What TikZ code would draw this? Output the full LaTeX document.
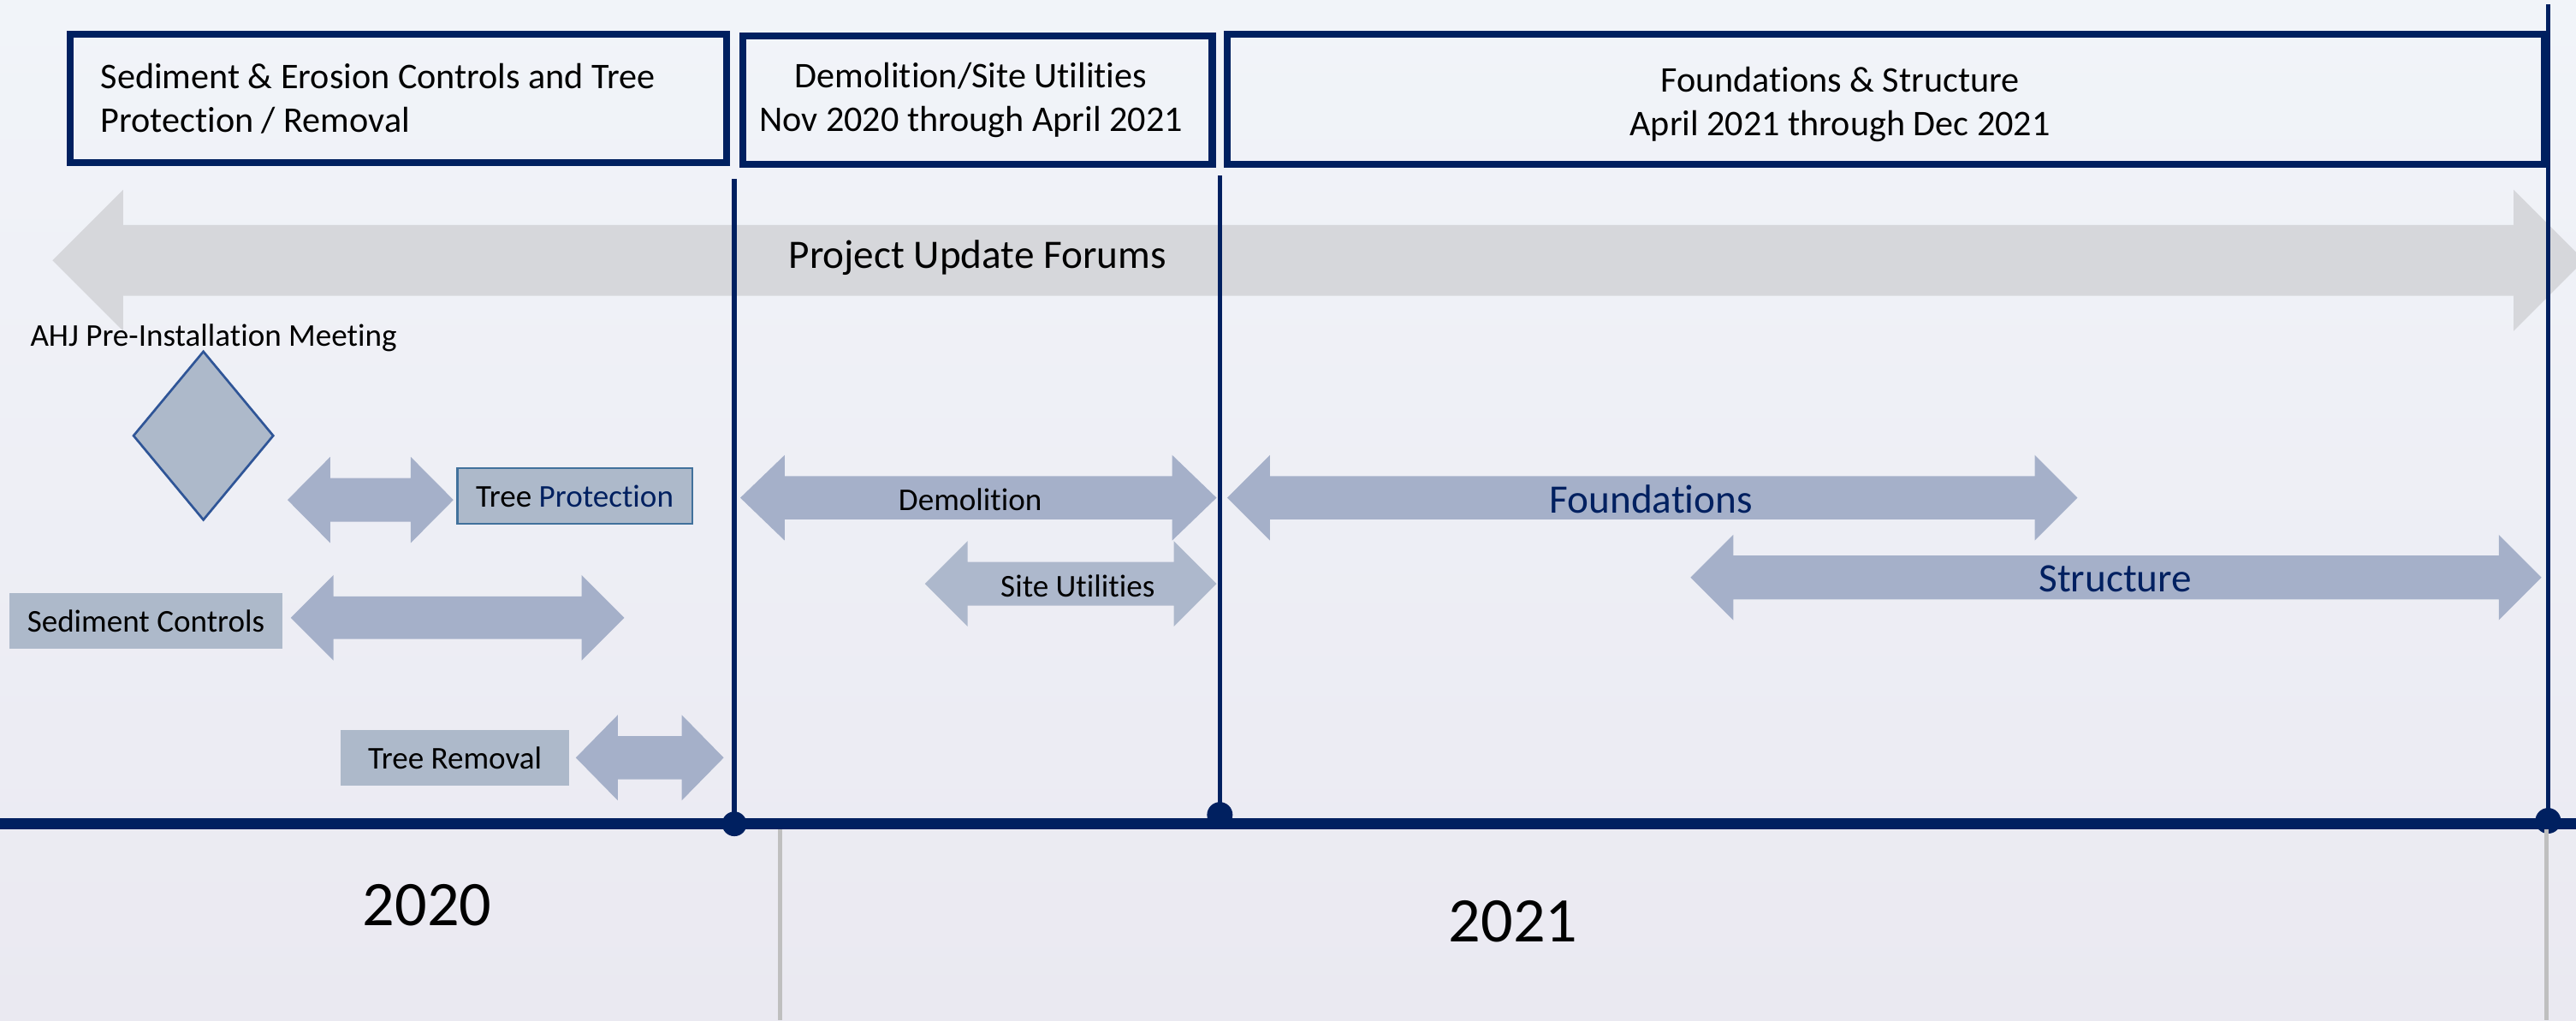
\documentclass[tikz,border=0pt]{standalone}
\usepackage{fontspec}
\setmainfont[Ligatures=NoCommon]{Carlito}
\definecolor{navy}{HTML}{002060}
\definecolor{bgtop}{RGB}{241,244,249}
\definecolor{bgbot}{RGB}{234,233,241}
\definecolor{arrowfill}{HTML}{A5B0C9}
\definecolor{arrowlite}{HTML}{ADB8CC}
\definecolor{boxfill}{HTML}{ADB9CA}
\definecolor{forumgray}{RGB}{214,215,219}
\definecolor{diaedge}{HTML}{2F5597}
\definecolor{tpedge}{HTML}{41719C}
\definecolor{yeargray}{RGB}{191,191,191}
\newcommand\dblarr[7]{% #1 colour, #2 left tip x, #3 right tip x, #4 centre y, #5 body half, #6 head half, #7 head length
  \fill[#1] (#2,#4) -- ({#2+#7},{#4-#6}) -- ({#2+#7},{#4-#5}) -- ({#3-#7},{#4-#5}) -- ({#3-#7},{#4-#6}) -- (#3,#4)
    -- ({#3-#7},{#4+#6}) -- ({#3-#7},{#4+#5}) -- ({#2+#7},{#4+#5}) -- ({#2+#7},{#4+#6}) -- cycle;}
\begin{document}
\begin{tikzpicture}[x=0.02cm,y=-0.02cm,
  hdr/.style={draw=navy, line width=0.084cm, inner sep=0pt},
  hdrtext/.style={font=\fontsize{12.5}{15.2}\selectfont, inner sep=0pt},
  tag/.style={fill=boxfill, inner sep=0pt, font=\fontsize{11}{13}\selectfont},
  lbl/.style={inner sep=0pt, font=\fontsize{11}{13}\selectfont},
  biglbl/.style={inner sep=0pt, font=\fontsize{14}{16}\selectfont, text=navy},
  vline/.style={navy, line width=0.056cm},
  yline/.style={yeargray, line width=0.05cm},
  year/.style={inner sep=0pt, font=\fontsize{22}{26}\selectfont}]
\useasboundingbox (0,0) rectangle (1568,621);
\shade[top color=bgtop,bottom color=bgbot] (0,0) rectangle (1568,621);

% Project Update Forums arrow
\dblarr{forumgray}{32}{1573}{158.5}{21.5}{43}{43}
\node[inner sep=0pt, font=\fontsize{14}{16}\selectfont] (forums) at (595,157) {Project Update Forums};

% header boxes
\node[hdr, minimum width=7.996cm, minimum height=1.56cm] (h1) at (242.5,60) {};
\node[hdrtext, anchor=west, align=left] (h1t) at (61,60) {Sediment \& Erosion Controls and Tree\\Protection / Removal};
\node[hdr, minimum width=5.716cm, minimum height=1.556cm] (h2) at (595,61) {};
\node[hdrtext, align=center] (h2t) at (591,61) {Demolition/Site Utilities\\Nov 2020 through April 2021};
\node[hdr, minimum width=16.038cm, minimum height=1.58cm] (h3) at (1148,60.5) {};
\node[hdrtext, align=center] (h3t) at (1120,63.5) {Foundations \& Structure\\April 2021 through Dec 2021};

% milestone lines
\coordinate (v1t) at (447,109);  \coordinate (v1b) at (447,501.5);
\coordinate (v2t) at (742.5,107); \coordinate (v2b) at (742.5,496);
\coordinate (v3t) at (1551,2.5); \coordinate (v3b) at (1551,499.6);
\draw[vline] (v1t) -- (v1b);
\draw[vline] (v2t) -- (v2b);
\draw[vline] (v3t) -- (v3b);

% AHJ meeting
\node[lbl] (ahj) at (130,205.5) {AHJ Pre-Installation Meeting};
\draw[diaedge, fill=boxfill, line width=0.028cm] (123.8,214) -- (166.3,265.2) -- (123.8,316.4) -- (81.3,265.2) -- cycle;

% activity arrows
\dblarr{arrowfill}{175}{276}{304.3}{13.3}{26.2}{26}
\dblarr{arrowfill}{177}{380}{376}{13}{26}{26}
\dblarr{arrowfill}{350.5}{440.5}{461.2}{13.2}{26}{25.5}
\dblarr{arrowfill}{450.6}{740.5}{303}{13.2}{26}{27}
\dblarr{arrowlite}{563}{740.5}{355.3}{13.3}{26}{26}
\dblarr{arrowfill}{747}{1264.5}{303}{13.2}{26}{26}
\dblarr{arrowfill}{1029}{1547}{351.5}{13.3}{26}{26}

% tags
\node[tag, draw=tpedge, line width=0.022cm, minimum width=2.858cm, minimum height=0.68cm] (tp) at (349.85,302) {Tree \textcolor{navy}{Protection}};
\node[tag, minimum width=3.328cm, minimum height=0.674cm] (sc) at (88.8,377.85) {Sediment Controls};
\node[tag, minimum width=2.784cm, minimum height=0.668cm] (tr) at (276.9,461.3) {Tree Removal};

% arrow labels
\node[lbl] (demo) at (590.6,304) {Demolition};
\node[lbl] (site) at (656,356.5) {Site Utilities};
\node[biglbl] (found) at (1005,304) {Foundations};
\node[biglbl] (struct) at (1287.6,352.5) {Structure};

% timeline
\coordinate (tl) at (0,501.5); \coordinate (tr2) at (1568,501.5);
\draw[navy, line width=0.14cm] (tl) -- (tr2);
\fill[navy] (v1b) circle[radius=7.5];
\fill[navy] (v2b) circle[radius=7.8];
\fill[navy] (v3b) circle[radius=7.8];

% year dividers
\coordinate (g1t) at (475,505); \coordinate (g1b) at (475,621);
\coordinate (g2t) at (1550,505); \coordinate (g2b) at (1550,621);
\draw[yline] (g1t) -- (g1b);
\draw[yline] (g2t) -- (g2b);
\node[year] (y2020) at (260,551) {2020};
\node[year] (y2021) at (921,561) {2021};
\end{tikzpicture}
\end{document}
